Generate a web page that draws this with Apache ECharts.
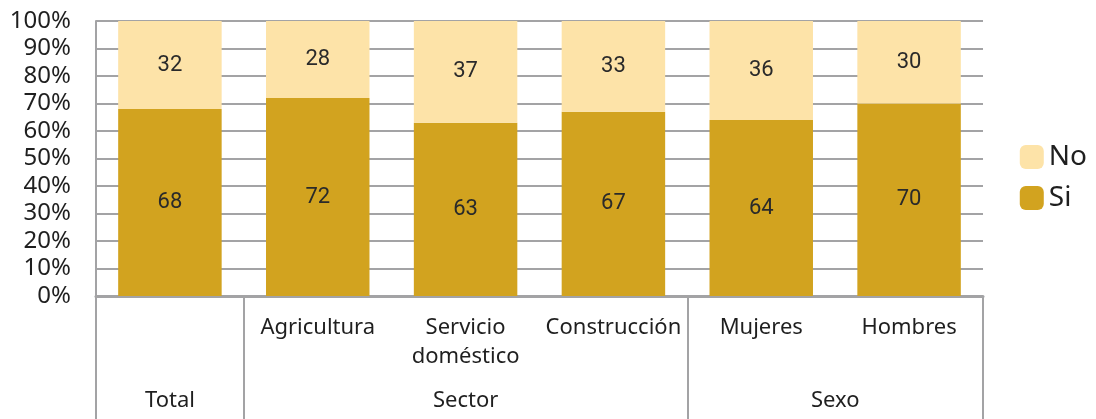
<!DOCTYPE html>
<html>
<head>
<meta charset="utf-8">
<script src="https://cdn.jsdelivr.net/npm/echarts@6/dist/echarts.min.js"></script>
<style>
  html, body { margin: 0; padding: 0; background: #fff; }
  #chart { width: 1096px; height: 419px; }
</style>
</head>
<body>
<div id="chart"></div>
<script>
const categories = ['', 'Agricultura', 'Servicio\ndoméstico', 'Construcción', 'Mujeres', 'Hombres']
const siValues = [68, 72, 63, 67, 64, 70]
const noValues = [32, 28, 37, 33, 36, 30]
// grupos del segundo nivel del eje (posicion central y nombre)
const groupNames = ['Total', 'Sector', 'Sexo']
const groupCenters = [0.5, 2.5, 5]
const groupBounds = [0, 1, 4, 6]
const yTicks = [0, 10, 20, 30, 40, 50, 60, 70, 80, 90, 100]

const axisGray = '#A3A3A5'
const textColor = '#1f1f1f'
const font = '"Noto Sans", "DejaVu Sans", sans-serif'

const chart = echarts.init(document.getElementById('chart'))
chart.setOption({
  animation: false,
  legend: {
    data: ['No', 'Si'],
    orient: 'vertical',
    right: 4,
    top: 138,
    itemWidth: 24,
    itemHeight: 24,
    itemGap: 13,
    textStyle: { fontSize: 28, color: textColor, fontFamily: font }
  },
  grid: {
    left: 96,
    right: 113,
    top: 21,
    bottom: 123
  },
  xAxis: [
    {
      type: 'category',
      data: categories,
      axisLine: { lineStyle: { color: axisGray, width: 3 } },
      axisTick: { show: false },
      axisLabel: {
        interval: 0,
        margin: 17,
        fontSize: 22,
        lineHeight: 29,
        color: textColor,
        fontFamily: font
      }
    },
    {
      // segundo nivel: Total / Sector / Sexo
      type: 'value',
      position: 'bottom',
      min: 0,
      max: 6,
      axisLine: { show: false },
      splitLine: { show: false },
      axisTick: {
        show: true,
        customValues: groupBounds,
        length: 125,
        lineStyle: { color: axisGray, width: 2 }
      },
      axisLabel: {
        customValues: groupCenters,
        margin: 94,
        fontSize: 22,
        color: textColor,
        fontFamily: font,
        formatter: (v) => groupNames[groupCenters.indexOf(v)]
      }
    }
  ],
  yAxis: {
    type: 'value',
    min: 0,
    max: 100,
    interval: 10,
    axisLine: { show: true, lineStyle: { color: axisGray, width: 2 } },
    axisTick: { show: false },
    splitLine: { lineStyle: { color: axisGray, width: 2 } },
    axisLabel: {
      margin: 25,
      fontSize: 24,
      color: textColor,
      fontFamily: font,
      formatter: (v) => (yTicks.indexOf(v) >= 0 ? v + '%' : '')
    }
  },
  series: [
    {
      name: 'Si',
      type: 'bar',
      stack: 'total',
      barWidth: '70%',
      data: siValues,
      itemStyle: { color: '#D2A31F' },
      label: { show: true, position: 'inside', fontSize: 22, color: '#2a2a2a', fontFamily: 'Roboto, sans-serif' }
    },
    {
      name: 'No',
      type: 'bar',
      stack: 'total',
      barWidth: '70%',
      data: noValues,
      itemStyle: { color: '#FDE3A8' },
      label: { show: true, position: 'inside', fontSize: 22, color: '#2a2a2a', fontFamily: 'Roboto, sans-serif' }
    }
  ]
})
</script>
</body>
</html>
